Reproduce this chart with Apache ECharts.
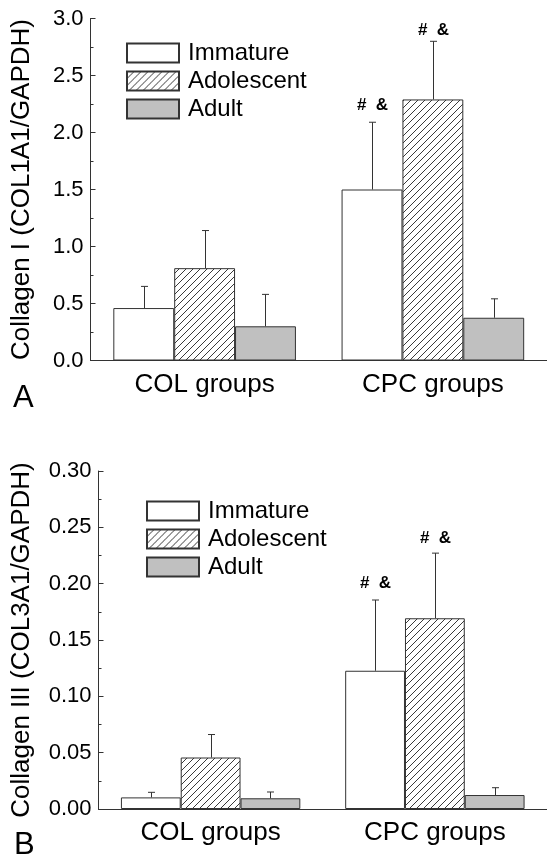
<!DOCTYPE html>
<html>
<head>
<meta charset="utf-8">
<script src="https://cdn.jsdelivr.net/npm/echarts@6/dist/echarts.min.js"></script>
<style>
  html, body { margin: 0; background: #fff; }
  #chart { width: 547px; height: 859px; }
</style>
</head>
<body>
<div id="chart"></div>
<script>
// categories and series
const groups = ['COL groups', 'CPC groups']
const ages = ['Immature', 'Adolescent', 'Adult']

// panel A: COL1A1/GAPDH
const col1Immature = [0.46, 1.50]
const col1ImmatureErr = [0.19, 0.59]
const col1Adolescent = [0.81, 2.29]
const col1AdolescentErr = [0.33, 0.51]
const col1Adult = [0.30, 0.375]
const col1AdultErr = [0.28, 0.166]

// panel B: COL3A1/GAPDH
const col3Immature = [0.0103, 0.1227]
const col3ImmatureErr = [0.0045, 0.0628]
const col3Adolescent = [0.0457, 0.1693]
const col3AdolescentErr = [0.0204, 0.0578]
const col3Adult = [0.0095, 0.0124]
const col3AdultErr = [0.0056, 0.0065]

// significance marks (same in both panels)
const sigImmature = ['', '#  &']
const sigAdolescent = ['', '#  &']
const sigAdult = ['', '']

// tick labels
const yTicksA = ['0.0', '0.5', '1.0', '1.5', '2.0', '2.5', '3.0']
const yTicksB = ['0.00', '0.05', '0.10', '0.15', '0.20', '0.25', '0.30']

const FONT = 'Arial, "Liberation Sans", sans-serif'
const INK = '#333'

// diagonal hatch for the Adolescent bars
const hatch = document.createElement('canvas')
hatch.width = 7
hatch.height = 7
const hctx = hatch.getContext('2d')
hctx.fillStyle = '#fff'
hctx.fillRect(0, 0, 7, 7)
hctx.strokeStyle = '#3a3a3a'
hctx.lineWidth = 1
hctx.beginPath()
hctx.moveTo(0, 7); hctx.lineTo(7, 0)
hctx.moveTo(-1, 1); hctx.lineTo(1, -1)
hctx.moveTo(6, 8); hctx.lineTo(8, 6)
hctx.stroke()

const fills = ['#ffffff', { image: hatch, repeat: 'repeat' }, '#c0c0c0']

function errorBars(slot, sigs, sigGap) {
  return function (params, api) {
    const cat = api.value(0)
    const val = api.value(1)
    const err = api.value(2)
    const band = api.size([1, 0])[0]
    const w = band * 0.8 / 3
    const base = api.coord([cat, val])
    const top = api.coord([cat, val + err])
    const x = Math.round(base[0] + (slot - 1) * w) + 0.5
    const style = { stroke: INK, lineWidth: 1 }
    const children = [
      { type: 'line', shape: { x1: x, y1: base[1], x2: x, y2: top[1] }, style },
      { type: 'line', shape: { x1: x - 3.5, y1: top[1], x2: x + 3.5, y2: top[1] }, style }
    ]
    const s = sigs[params.dataIndex]
    if (s) {
      children.push({
        type: 'text',
        x: x,
        y: top[1] - sigGap,
        style: {
          text: s, fill: '#000', align: 'center', verticalAlign: 'middle',
          font: 'bold 17px ' + FONT
        }
      })
    }
    return { type: 'group', children }
  }
}

function panelSeries(idx, vals, errs, sigs, sigGaps) {
  const out = []
  vals.forEach((v, i) => {
    out.push({
      name: ages[i],
      type: 'bar',
      xAxisIndex: idx * 2,
      yAxisIndex: idx,
      data: v,
      barGap: '0%',
      barCategoryGap: '20%',
      itemStyle: { color: fills[i], borderColor: INK, borderWidth: 1 },
      emphasis: { disabled: true }
    })
  })
  vals.forEach((v, i) => {
    out.push({
      type: 'custom',
      xAxisIndex: idx * 2,
      yAxisIndex: idx,
      silent: true,
      z: 3,
      data: v.map((y, k) => [k, y, errs[i][k]]),
      renderItem: errorBars(i, sigs[i], sigGaps[i])
    })
  })
  return out
}

function catAxes(gridIndex) {
  return [
    {
      type: 'category',
      gridIndex,
      data: groups,
      axisLine: { lineStyle: { color: INK, width: 1 } },
      axisTick: { inside: true, alignWithLabel: true, length: 6, lineStyle: { color: INK } },
      axisLabel: { color: '#000', fontSize: 26, fontFamily: FONT, margin: 11 }
    },
    {
      type: 'category',
      gridIndex,
      data: groups,
      axisLine: { show: false },
      axisTick: { inside: true, length: 4, lineStyle: { color: INK } },
      axisLabel: { show: false }
    }
  ]
}

function valAxis(gridIndex, max, step, ticks, name, gap) {
  return {
    type: 'value',
    gridIndex,
    min: 0,
    max,
    interval: step,
    name,
    nameLocation: 'middle',
    nameGap: gap,
    nameTextStyle: { color: '#000', fontSize: 26, fontFamily: FONT },
    axisLine: { show: true, lineStyle: { color: INK, width: 1 } },
    axisTick: { show: true, inside: true, length: 5, lineStyle: { color: INK } },
    minorTick: { show: true, splitNumber: 2, length: 3, lineStyle: { color: INK } },
    splitLine: { show: false },
    axisLabel: {
      color: '#000', fontSize: 22, fontFamily: FONT, margin: 7,
      formatter: (v) => ticks[Math.round(v / step)]
    }
  }
}

function legendAt(left, top) {
  return {
    data: ages.map((n) => ({ name: n, icon: 'rect' })),
    orient: 'vertical',
    left,
    top,
    padding: 0,
    itemWidth: 52,
    itemHeight: 19,
    itemGap: 4,
    selectedMode: false,
    textStyle: { color: '#000', fontSize: 24, fontFamily: FONT, lineHeight: 20, padding: [0, 0, 0, 4] }
  }
}

const chart = echarts.init(document.getElementById('chart'))
chart.setOption({
  animation: false,
  backgroundColor: '#fff',
  grid: [
    { left: 90.5, top: 18.5, width: 460, height: 342 },
    { left: 98.5, top: 471, width: 456, height: 338 }
  ],
  legend: [legendAt(126, 41), legendAt(146, 69 + 430)],
  xAxis: [...catAxes(0), ...catAxes(1)],
  yAxis: [
    valAxis(0, 3, 0.5, yTicksA, 'Collagen I (COL1A1/GAPDH)', 56),
    valAxis(1, 0.3, 0.05, yTicksB, 'Collagen III (COL3A1/GAPDH)', 64)
  ],
  series: [
    ...panelSeries(0,
      [col1Immature, col1Adolescent, col1Adult],
      [col1ImmatureErr, col1AdolescentErr, col1AdultErr],
      [sigImmature, sigAdolescent, sigAdult], [17, 11, 0]),
    ...panelSeries(1,
      [col3Immature, col3Adolescent, col3Adult],
      [col3ImmatureErr, col3AdolescentErr, col3AdultErr],
      [sigImmature, sigAdolescent, sigAdult], [17, 15, 0])
  ],
  graphic: [
    { type: 'text', left: 13, top: 383, style: { text: 'A', font: '31px ' + FONT, fill: '#000' } },
    { type: 'text', left: 14, top: 830, style: { text: 'B', font: '31px ' + FONT, fill: '#000' } }
  ]
})
</script>
</body>
</html>
